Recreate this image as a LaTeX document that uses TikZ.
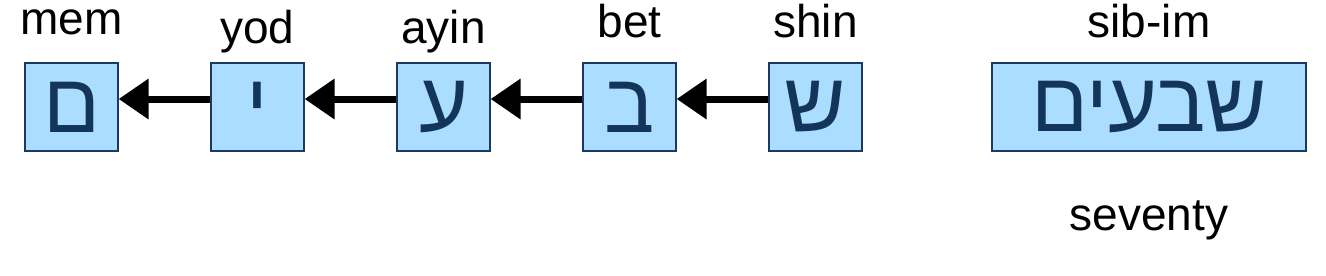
\documentclass[tikz,border=0pt]{standalone}
\usepackage{fontspec}
\setmainfont{Liberation Sans}
\newfontfamily\hebfont[Script=Hebrew]{Liberation Sans}
\TeXXeTstate=1
\usetikzlibrary{arrows.meta,positioning}
\definecolor{boxfill}{HTML}{AADDFF}
\definecolor{boxline}{HTML}{1C3A5E}
\definecolor{hebtext}{HTML}{13355A}
\tikzset{
  label/.style={font=\fontsize{23}{26}\selectfont,text=black,anchor=base,inner sep=0pt},
  letter/.style={draw=boxline,fill=boxfill,line width=0.65pt,minimum width=46.5pt,minimum height=44pt,inner sep=0pt,font=\hebfont\fontsize{42}{44}\selectfont,text=hebtext},
  arr/.style={-{Triangle[length=15pt,width=19.5pt]},draw=black,line width=3.5pt}
}
\begin{document}
\begin{tikzpicture}[x=0.5pt,y=-0.5pt]
\path[use as bounding box] (0,0) rectangle (1326,275);
% letter boxes, right to left
\foreach \name/\x/\chr/\lbl/\bl in {
mem/71.5/ם/mem/34,
yod/257.5/י/yod/43,
ayin/443.5/ע/ayin/43,
bet/629.5/ב/bet/37,
shin/815.5/ש/shin/37}
{
\node[letter] (\name) at (\x,107) {\beginR\chr\endR};
\node[label] (\name-lbl) at (\x,\bl) {\lbl};
}
\foreach \a/\b in {shin/bet,bet/ayin,ayin/yod,yod/mem}
  \draw[arr] ([yshift=4pt]\a.west) -- ([yshift=4pt]\b.east);
% whole word
\node[letter,minimum width=157pt] (word) at (1149,107) {\beginR שבעים\endR};
\node[label] (word-lbl) at (1149,37) {sib-im};
\node[label] (meaning) at (1149,230) {seventy};
\end{tikzpicture}
\end{document}
